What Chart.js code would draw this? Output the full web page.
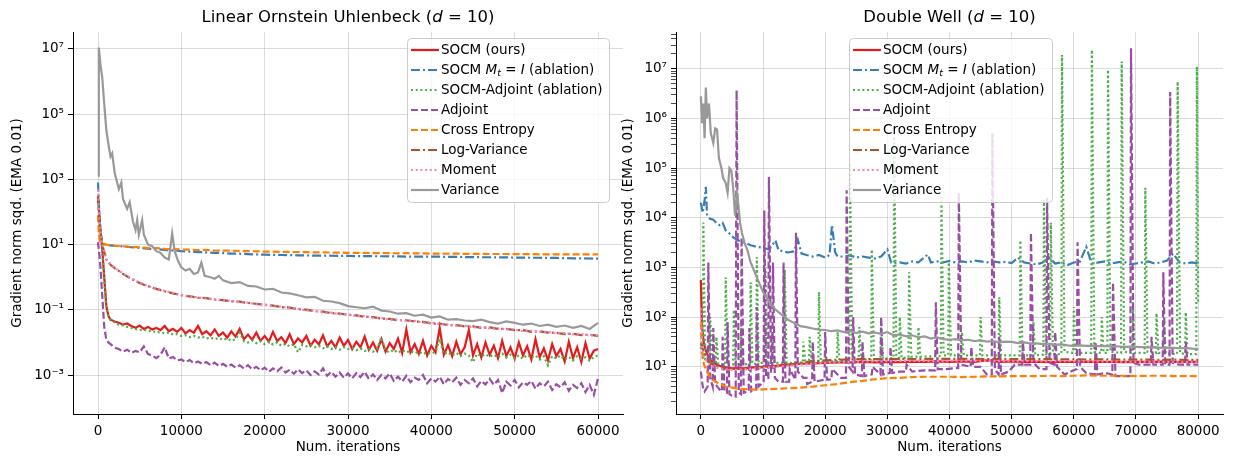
<!DOCTYPE html>
<html>
<head>
<meta charset="utf-8">
<script src="https://cdn.jsdelivr.net/npm/chart.js@4.4.1/dist/chart.umd.min.js"></script>
<style>
  body { margin: 0; background: #fff; }
  #wrap { position: relative; width: 1233px; height: 460px; overflow: hidden; }
  canvas { position: absolute; top: 0; }
  #chart-ou { left: 0; }
  #chart-dw { left: 615px; }
</style>
</head>
<body>
<div id="wrap">
  <canvas id="chart-ou" width="625" height="460"></canvas>
  <canvas id="chart-dw" width="618" height="460"></canvas>
</div>
<script>
const seriesNames = ['SOCM (ours)', 'SOCM Mt = I (ablation)', 'SOCM-Adjoint (ablation)', 'Adjoint',
    'Cross Entropy', 'Log-Variance', 'Moment', 'Variance'];

// ---- Linear Ornstein Uhlenbeck ----
const ouXTicks = [0, 10000, 20000, 30000, 40000, 50000, 60000];
const ouYTicks = [1e-3, 1e-1, 1e1, 1e3, 1e5, 1e7];
const ouYTickLabels = ['10⁻³', '10⁻¹', '10¹', '10³', '10⁵', '10⁷'];

const ouIters = [0, 100, 250, 500, 1000, 1500, 2000, 3000, 4000, 5000,
    6000, 7000, 8000, 9000, 10000,
    11000, 12000, 13000, 14000, 15000, 16000, 17000, 18000, 19000, 20000,
    21000, 22000, 23000, 24000, 25000, 26000, 27000, 28000, 29000, 30000,
    31000, 32000, 33000, 34000, 35000, 36000, 37000, 38000, 39000, 40000,
    41000, 42000, 43000, 44000, 45000, 46000, 47000, 48000, 49000, 50000,
    51000, 52000, 53000, 54000, 55000, 56000, 57000, 58000, 59000, 60000];

const ouCrossEntropy = [80, 20, 13, 11, 10, 9.6, 9.3, 8.9, 8.5, 8.3,
    7.9, 7.8, 7.4, 7.3, 7.1,
    7.0, 6.8, 6.9, 6.6, 6.5, 6.5, 6.3, 6.3, 6.2, 6.1,
    6.1, 6.0, 5.95, 5.9, 5.85, 5.8, 5.8, 5.7, 5.7, 5.6,
    5.6, 5.55, 5.5, 5.5, 5.45, 5.4, 5.45, 5.35, 5.35, 5.3,
    5.3, 5.25, 5.3, 5.2, 5.2, 5.2, 5.15, 5.15, 5.15, 5.1,
    5.1, 5.1, 5.05, 5.05, 5.05, 5.0, 5.0, 5.0, 5.0, 5.0];

const ouMtI = [800, 200, 30, 10.5, 9.8, 9.5, 9.2, 8.8, 8.3, 7.9,
    7.5, 7.2, 6.9, 6.6, 6.3,
    6.1, 5.9, 5.8, 5.6, 5.5, 5.3, 5.25, 5.1, 5.0, 4.9,
    4.85, 4.8, 4.75, 4.7, 4.65, 4.6, 4.6, 4.55, 4.5, 4.5,
    4.45, 4.45, 4.4, 4.4, 4.35, 4.35, 4.3, 4.3, 4.3, 4.25,
    4.25, 4.2, 4.2, 4.15, 4.15, 4.1, 4.1, 4.05, 4.05, 4.0,
    4.0, 3.95, 3.95, 3.9, 3.9, 3.85, 3.8, 3.8, 3.75, 3.7];

const ouLogVariance = [300, 100, 32, 10, 3.5, 2.4, 1.9, 1.26, 0.89, 0.66,
    0.53, 0.44, 0.37, 0.32, 0.28,
    0.26, 0.235, 0.228, 0.205, 0.198, 0.182, 0.178, 0.162, 0.153, 0.142,
    0.135, 0.121, 0.117, 0.105, 0.101, 0.091, 0.088, 0.079, 0.077, 0.07,
    0.068, 0.061, 0.06, 0.054, 0.053, 0.048, 0.048, 0.044, 0.043, 0.038,
    0.038, 0.034, 0.034, 0.031, 0.031, 0.028, 0.029, 0.026, 0.026, 0.024,
    0.024, 0.021, 0.022, 0.02, 0.0198, 0.018, 0.0185, 0.0168, 0.0172, 0.016];

const ouMoment = [500, 120, 35, 11, 3.6, 2.5, 1.95, 1.3, 0.92, 0.68,
    0.54, 0.45, 0.38, 0.33, 0.285,
    0.255, 0.242, 0.222, 0.21, 0.192, 0.186, 0.172, 0.166, 0.149, 0.145,
    0.128, 0.125, 0.111, 0.108, 0.096, 0.094, 0.083, 0.082, 0.073, 0.072,
    0.064, 0.064, 0.057, 0.056, 0.05, 0.05, 0.045, 0.046, 0.04, 0.041,
    0.036, 0.036, 0.032, 0.033, 0.029, 0.03, 0.027, 0.027, 0.025, 0.025,
    0.022, 0.023, 0.021, 0.021, 0.0192, 0.0195, 0.0178, 0.018, 0.0165, 0.0168];

const ouVarIters = [0, 100, 300, 500, 700, 1000, 1300, 1500, 1700, 2000,
    2500, 2800, 3000, 3500, 3800, 4200, 4500, 4700, 4900, 5300,
    5500, 6000, 6500, 7000, 7500, 8000, 8500, 8900, 9200, 9600,
    10000, 10500, 11000, 11500, 12000, 12400, 12800, 13500, 14000, 14500,
    15000, 16000, 17000, 18000, 19000, 20000, 21000, 22000, 23000, 24000,
    25000, 26000, 27000, 28000, 29000, 30000, 31000, 32000, 33000, 34000,
    35000, 36000, 37000, 38000, 39000, 40000, 41000, 42000, 43000, 44000,
    45000, 46000, 47000, 48000, 49000, 50000, 51000, 52000, 53000, 54000,
    55000, 56000, 57000, 58000, 59000, 60000];

const ouVariance = [1300, 1.1e7, 3.2e6, 1.4e6, 3e5, 3.2e4, 1e4, 5000, 6300, 1600,
    500, 800, 250, 125, 200, 50, 28, 56, 20, 56,
    20, 10, 9, 6.3, 5.6, 4, 3.5, 22, 6.3, 3.2,
    2.0, 1.6, 1.8, 1.26, 1.4, 2.8, 1.1, 1.0, 0.9, 1.1,
    0.8, 0.66, 0.71, 0.54, 0.52, 0.42, 0.44, 0.34, 0.32, 0.28,
    0.24, 0.25, 0.19, 0.18, 0.16, 0.13, 0.12, 0.112, 0.126, 0.095,
    0.089, 0.076, 0.079, 0.066, 0.071, 0.058, 0.063, 0.05, 0.052, 0.047,
    0.045, 0.05, 0.042, 0.038, 0.044, 0.04, 0.035, 0.038, 0.032, 0.035,
    0.030, 0.033, 0.028, 0.032, 0.026, 0.04];

const ouNoisyIters = [0, 250, 500, 750, 1000, 1250,
    1500, 2000, 2500, 3000, 3500, 4000, 4500, 5000, 5500, 6000,
    6500, 7000, 7500, 8000, 8500, 9000, 9500, 10000, 10500, 11000,
    11500, 12000, 12500, 13000, 13500, 14000, 14500, 15000, 15500, 16000,
    16500, 17000, 17500, 18000, 18500, 19000, 19500, 20000, 20500, 21000,
    21500, 22000, 22500, 23000, 23500, 24000, 24500, 25000, 25500, 26000,
    26500, 27000, 27500, 28000, 28500, 29000, 29500, 30000, 30500, 31000,
    31500, 32000, 32500, 33000, 33500, 34000, 34500, 35000, 35500, 36000,
    36500, 37000, 37500, 38000, 38500, 39000, 39500, 40000, 40500, 41000,
    41500, 42000, 42500, 43000, 43500, 44000, 44500, 45000, 45500, 46000,
    46500, 47000, 47500, 48000, 48500, 49000, 49500, 50000, 50500, 51000,
    51500, 52000, 52500, 53000, 53500, 54000, 54500, 55000, 55500, 56000,
    56500, 57000, 57500, 58000, 58500, 59000, 59500, 60000];

const ouSocm = [300, 40, 8, 1.0, 0.13, 0.065,
    0.050, 0.044, 0.040, 0.035, 0.038, 0.032, 0.028, 0.033, 0.026, 0.030,
    0.025, 0.028, 0.024, 0.032, 0.022, 0.026, 0.021, 0.028, 0.019, 0.024,
    0.020, 0.032, 0.018, 0.022, 0.0166, 0.025, 0.0158, 0.020, 0.0141, 0.022,
    0.0151, 0.026, 0.0126, 0.0174, 0.012, 0.020, 0.0112, 0.0158, 0.0105, 0.021,
    0.011, 0.0145, 0.0095, 0.0178, 0.0089, 0.0132, 0.010, 0.0158, 0.0079, 0.012,
    0.0087, 0.0166, 0.0076, 0.0112, 0.0071, 0.0141, 0.0079, 0.012, 0.0063, 0.0105,
    0.0071, 0.0151, 0.006, 0.010, 0.0056, 0.0126, 0.0052, 0.0095, 0.0063, 0.0132,
    0.0048, 0.025, 0.005, 0.0089, 0.0045, 0.0112, 0.004, 0.0079, 0.005, 0.028,
    0.0042, 0.0083, 0.0038, 0.0105, 0.0044, 0.0071, 0.024, 0.004, 0.0089, 0.0035,
    0.010, 0.0042, 0.0079, 0.0033, 0.0112, 0.0038, 0.0071, 0.0032, 0.010, 0.004,
    0.0076, 0.003, 0.0126, 0.0035, 0.0066, 0.0028, 0.0089, 0.0038, 0.0063, 0.0026,
    0.0105, 0.0033, 0.0071, 0.0025, 0.0095, 0.0032, 0.0056, 0.0063];

const ouSocmAdjoint = [200, 35, 7, 0.8, 0.11, 0.06,
    0.048, 0.042, 0.035, 0.033, 0.030, 0.028, 0.026, 0.024, 0.025, 0.022,
    0.023, 0.020, 0.021, 0.019, 0.020, 0.0174, 0.018, 0.0158, 0.0166, 0.0145,
    0.0158, 0.0141, 0.0151, 0.0132, 0.0141, 0.0126, 0.0138, 0.012, 0.0132, 0.0112,
    0.0126, 0.020, 0.011, 0.010, 0.0115, 0.0095, 0.011, 0.0089, 0.0105, 0.0087,
    0.010, 0.0079, 0.0091, 0.0076, 0.0089, 0.005, 0.0083, 0.0076, 0.0083, 0.0071,
    0.0079, 0.0066, 0.0076, 0.0063, 0.0072, 0.006, 0.0071, 0.0063, 0.0069, 0.0058,
    0.0066, 0.0055, 0.0063, 0.0052, 0.0063, 0.0141, 0.0056, 0.005, 0.006, 0.0048,
    0.0058, 0.005, 0.0055, 0.0046, 0.0052, 0.0044, 0.005, 0.0045, 0.0052, 0.0126,
    0.0044, 0.005, 0.004, 0.0048, 0.0038, 0.0046, 0.004, 0.0025, 0.0045, 0.0038,
    0.0044, 0.0036, 0.0042, 0.0035, 0.0045, 0.0035, 0.0042, 0.0033, 0.004, 0.0032,
    0.0042, 0.0034, 0.004, 0.003, 0.0038, 0.002, 0.0038, 0.0032, 0.004, 0.003,
    0.0036, 0.0028, 0.0038, 0.0032, 0.0035, 0.0028, 0.0036, 0.004];

const ouAdjoint = [12, 3, 0.3, 0.03, 0.012, 0.01,
    0.0089, 0.0069, 0.0063, 0.0052, 0.006, 0.0048, 0.0055, 0.005, 0.0076, 0.0044,
    0.004, 0.0033, 0.0042, 0.0071, 0.0032, 0.0036, 0.0028, 0.003, 0.0025, 0.0029,
    0.0023, 0.0026, 0.0022, 0.0025, 0.002, 0.0024, 0.0019, 0.0022, 0.0018, 0.0021,
    0.0017, 0.002, 0.0016, 0.002, 0.0015, 0.0018, 0.0014, 0.0017, 0.00126, 0.0016,
    0.0013, 0.0017, 0.0012, 0.00145, 0.0011, 0.0015, 0.00115, 0.0014, 0.001, 0.0013,
    0.00105, 0.0016, 0.00095, 0.00126, 0.00089, 0.0012, 0.00083, 0.00112, 0.00079, 0.00115,
    0.00087, 0.00126, 0.00076, 0.00105, 0.00071, 0.001, 0.00079, 0.00112, 0.00066, 0.00089,
    0.00063, 0.00095, 0.0006, 0.00083, 0.00071, 0.001, 0.00056, 0.00079, 0.00063, 0.00089,
    0.00052, 0.00076, 0.0006, 0.00083, 0.0005, 0.00071, 0.00056, 0.00079, 0.00045, 0.00066,
    0.00052, 0.00076, 0.0005, 0.00071, 0.00028, 0.00063, 0.00048, 0.00071, 0.00042, 0.0006,
    0.0005, 0.00066, 0.00038, 0.00056, 0.00045, 0.00063, 0.00035, 0.00052, 0.00042, 0.0006,
    0.00033, 0.0005, 0.0004, 0.00056, 0.0003, 0.0005, 0.00025, 0.00079];

// ---- Double Well ----
const dwXTicks = [0, 10000, 20000, 30000, 40000, 50000, 60000, 70000, 80000];
const dwYTicks = [1e1, 1e2, 1e3, 1e4, 1e5, 1e6, 1e7];
const dwYTickLabels = ['10¹', '10²', '10³', '10⁴', '10⁵', '10⁶', '10⁷'];
const dwMinorDecades = [1, 1e1, 1e2, 1e3, 1e4, 1e5, 1e6, 1e7];
const minorSteps = [2, 3, 4, 5, 6, 7, 8, 9];

const dwIters = [0, 200, 500, 1000, 1500, 2000, 3000, 4000, 5000, 6000,
    7000, 8000, 9000, 10000, 12000, 14000, 16000, 18000, 20000, 22000,
    24000, 26000, 28000, 30000, 32000, 34000, 36000, 38000, 40000, 42000,
    44000, 46000, 48000, 50000, 52000, 54000, 56000, 58000, 60000, 62000,
    64000, 66000, 68000, 70000, 72000, 74000, 76000, 78000, 80000];

const dwSocm = [560, 63, 28, 18, 14, 12, 10.5, 9.8, 9.3, 9.4,
    9.3, 9.6, 9.8, 10, 10.5, 11, 11.5, 11.7, 12, 12.3,
    12.2, 12.5, 12.3, 12.6, 12.4, 12.7, 12.5, 12.8, 12.6, 12.8,
    12.5, 13.5, 12.6, 12.8, 12.5, 12.7, 12.4, 12.6, 12.5, 12.7,
    12.5, 12.6, 12.4, 12.6, 12.5, 12.7, 12.5, 12.6, 12.6];

const dwCrossEntropy = [80, 20, 11, 7.9, 6.3, 5.4, 4.5, 4.0, 3.8, 3.6,
    3.55, 3.5, 3.45, 3.5, 3.6, 3.7, 3.8, 4.0, 4.25, 4.5,
    4.9, 5.2, 5.6, 5.9, 6.0, 6.2, 6.3, 6.3, 6.3, 6.2,
    6.3, 6.4, 6.4, 6.5, 6.5, 6.5, 6.6, 6.5, 6.6, 6.7,
    6.6, 6.6, 6.6, 6.5, 6.6, 6.6, 6.5, 6.5, 6.5];

const dwLogVariance = [30, 25, 18, 14, 12, 11, 10, 9.3, 9.1, 9.1,
    9.1, 9.3, 9.5, 9.8, 10.2, 11, 12, 12.9, 13.5, 13.8,
    14.1, 14.2, 14.3, 14.3, 14.4, 14.3, 14.4, 14.5, 14.4, 14.5,
    14.4, 14.3, 14.4, 14.3, 14.2, 14.3, 14.2, 14.1, 14.2, 14.0,
    14.1, 14.0, 13.9, 14.0, 13.9, 13.8, 13.9, 13.8, 13.8];

const dwMoment = [150, 25, 16, 12.6, 11, 10, 9.3, 8.9, 8.7, 8.7,
    8.9, 9.1, 9.3, 9.5, 10, 10.5, 11, 11.5, 12, 12.3,
    12.6, 12.8, 12.9, 13, 13.1, 13.1, 13.2, 13.2, 13.2, 13.3,
    13.2, 13.2, 13.1, 13.2, 13.1, 13.0, 13.1, 13.0, 12.9, 12.9,
    12.8, 12.8, 12.7, 12.6, 12.6, 12.5, 12.5, 12.4, 12.4];

const dwMtIIters = [0, 300, 600, 800, 1000, 1500, 2000, 2500, 3000, 3500,
    4000, 4500, 5000, 6000, 7000, 8000, 9000, 10000, 11000, 12000,
    12500, 13000, 14000, 15000, 15600, 16200, 17000, 18000, 19000, 20000,
    20700, 21100, 21600, 22000, 23000, 24000, 25000, 26000, 27000, 28000,
    29000, 30000, 30600, 31000, 32000, 33000, 34000, 35000, 36500, 37000,
    38000, 39000, 40000, 41000, 42000, 43000, 44000, 45000, 46000, 47000,
    48000, 49000, 50000, 51000, 52000, 53000, 54000, 55000, 56000, 57000,
    58000, 59000, 60000, 61000, 62000, 62800, 63000, 64000, 65000, 66000,
    67000, 68000, 69000, 70000, 71000, 72000, 73000, 74000, 75000, 76000,
    77000, 78000, 79000, 80000];

const dwMtI = [2e4, 1.26e4, 2.2e4, 4.2e4, 1.1e4, 9500, 9100, 7900, 7100, 7900,
    5600, 5000, 4200, 3500, 3200, 2800, 2600, 2500, 2300, 3500,
    2200, 2150, 2000, 2100, 3600, 1900, 1780, 1660, 1780, 1580,
    1780, 7200, 2000, 1660, 1660, 1740, 1580, 1660, 1580, 1510,
    1660, 2300, 1260, 1230, 1260, 1200, 1320, 1260, 1820, 1260,
    1320, 1260, 1350, 1260, 1320, 1260, 1380, 1320, 1260, 1320,
    1260, 1290, 1230, 1580, 1260, 1200, 1150, 1260, 1580, 1200,
    1260, 1120, 1260, 1320, 2600, 1260, 1200, 1260, 1320, 1200,
    1260, 1320, 1150, 1200, 1260, 1320, 1200, 1260, 1380, 1900,
    1260, 1200, 1260, 1200];

const dwVarIters = [0, 200, 400, 600, 800, 1000, 1300, 1600, 2000, 2300,
    2600, 2900, 3300, 3600, 4000, 4300, 4600, 4900, 5200, 5500,
    5800, 6000, 6300, 6600, 7000, 7500, 8000, 8500, 9000, 9500,
    10000, 11000, 12000, 13000, 14000, 15000, 16000, 17000, 18000, 19000,
    20000, 21000, 22000, 23000, 24000, 25000, 26000, 27000, 28000, 29000,
    30000, 31000, 32000, 33000, 34000, 35000, 36000, 37000, 38000, 39000,
    40000, 41000, 42000, 43000, 44000, 45000, 46000, 47000, 48000, 49000,
    50000, 51000, 52000, 53000, 54000, 55000, 56000, 57000, 58000, 59000,
    60000, 61000, 62000, 63000, 64000, 65000, 66000, 67000, 68000, 69000,
    70000, 71000, 72000, 73000, 74000, 75000, 76000, 77000, 78000, 79000,
    80000];

const dwVariance = [2.8e6, 8e5, 2e6, 4e5, 4.2e6, 1e6, 2e6, 5e5, 3.2e5, 6.3e5,
    6e5, 1.6e5, 1e5, 6.3e4, 5e4, 3.2e4, 1e5, 9e4, 4e4, 1.1e4,
    3.2e4, 2e4, 8e3, 5e3, 3.2e3, 2.2e3, 1260, 900, 630, 450,
    320, 200, 141, 112, 89, 76, 66, 63, 59, 56,
    55, 52, 54, 50, 52, 48, 51, 47, 49, 46,
    50, 43, 45, 41, 43, 39, 41, 37, 39, 36,
    35, 36, 34, 35, 33, 34, 32, 33, 31, 32,
    31.6, 30, 31, 29.5, 29.5, 28.5, 28.8, 28, 28.2, 27,
    26.3, 27, 26.3, 26.6, 26, 26.2, 25.5, 25.9, 25.1, 25.4,
    25.1, 24.8, 24.5, 24.8, 24, 24.3, 24, 23.6, 23.8, 23.2,
    22.9];

const dwAdjointIters = [0, 300, 600, 1100, 1200, 1500, 1900, 2000, 2300, 3000,
    3400, 3500, 3800, 4200, 4300, 4600, 5000, 5600, 5750, 6100,
    6450, 6550, 6900, 7700, 7800, 8100, 8900, 9000, 9300, 10100,
    10200, 10500, 10850, 10950, 11300, 11500, 11600, 11900, 12500, 13200,
    13300, 13600, 14200, 14300, 15200, 15300, 15600, 16500, 17000, 17100,
    17900, 18000, 18300, 19900, 20000, 20300, 21000, 21100, 22500, 23350,
    23450, 23800, 24400, 24500, 24800, 25900, 26000, 26300, 27500, 27600,
    28900, 29000, 29300, 30400, 30500, 30800, 32000, 33000, 33100, 34000,
    36000, 37700, 37800, 38100, 39500, 41400, 41500, 41900, 43400, 43500,
    43800, 45000, 46000, 46800, 46900, 47300, 47900, 48000, 48300, 49500,
    50500, 51700, 51800, 52100, 53000, 53100, 53500, 54500, 55600, 55700,
    56100, 56900, 57000, 57300, 58500, 59500, 60500, 60600, 61000, 62000,
    63400, 63500, 63800, 65000, 66200, 66300, 66700, 68000, 69100, 69200,
    69600, 70500, 72400, 72500, 72800, 74300, 74400, 74700, 75400, 75500,
    75900, 77000, 77900, 78000, 78300, 80000];

const dwAdjoint = [8, 4, 3.2, 4, 1260, 6, 4, 60, 4.5, 3.5,
    3.2, 40, 3.2, 3.0, 80, 2.8, 2.6, 2.5, 3.7e6, 3.0,
    2.8, 4000, 3.0, 3.2, 60, 3.2, 3.5, 160, 4, 5,
    1.4e4, 6, 6, 6.6e4, 8, 8, 1260, 6, 5, 5,
    1260, 5, 5, 9, 5.5, 5000, 8, 6, 6, 4.5,
    5, 32, 5, 5.5, 50, 5.5, 5.5, 9, 6, 6,
    3.6e4, 10, 8, 100, 7, 6.5, 32, 6.5, 7, 10,
    7, 100, 7, 7.5, 25, 7.5, 8, 8, 11, 8,
    8.5, 8.5, 200, 9, 9, 9.5, 3.2e4, 11, 10, 25,
    10, 10, 7, 7, 5e5, 9, 7, 40, 7, 8,
    11, 11, 32, 11, 11, 5000, 12, 9, 9, 2.5e4,
    12, 11, 50, 10, 7, 8, 9, 3200, 10, 7.5,
    7, 32, 7, 7.5, 7, 500, 6.5, 6.5, 6.5, 2.6e7,
    12, 11, 11, 40, 11, 11, 800, 11, 11, 3.4e6,
    12, 11, 11, 32, 11, 11];

const dwSocmAdjointIters = [0, 300, 350, 400, 700, 1400, 1500, 1800, 2400, 2500,
    2800, 3900, 4000, 4300, 5200, 5300, 5600, 6400, 6500, 6800,
    7900, 8000, 8300, 8900, 9000, 9300, 10300, 10400, 10700, 11400,
    11500, 11800, 13400, 13500, 13800, 16400, 16500, 16800, 17400, 17500,
    17800, 18900, 19000, 19300, 21900, 22000, 22300, 23900, 24000, 24350,
    25400, 25500, 25800, 27400, 27500, 27850, 28900, 29000, 29300, 31000,
    31100, 31450, 31900, 32000, 32300, 33400, 33500, 33850, 34900, 35000,
    35300, 38600, 38700, 39050, 39800, 39900, 40250, 41900, 42000, 42300,
    44900, 45000, 45300, 47900, 48000, 48300, 51300, 51400, 51750, 53400,
    53500, 53800, 55100, 55200, 55550, 56200, 56300, 56650, 58000, 58100,
    58500, 59900, 60000, 60300, 62800, 62900, 63300, 64400, 64500, 64800,
    65400, 65500, 65900, 67600, 67700, 68100, 69400, 69500, 69800, 71400,
    71500, 71850, 73200, 73300, 73600, 74400, 74500, 74800, 76600, 76700,
    77100, 77900, 78000, 78300, 79700, 79800, 80000];

const dwSocmAdjoint = [25, 15, 15, 8000, 14, 12, 100, 12, 11.5, 40,
    11.5, 11, 630, 11, 11, 140, 11, 11, 63, 11,
    11.5, 500, 11.5, 11.5, 1600, 12, 12, 1000, 12, 12,
    50, 12, 12, 900, 12, 12, 32, 12, 12, 40,
    12, 12.5, 320, 12.5, 13, 50, 13, 13.5, 1.26e5, 16,
    14, 63, 14, 14, 2300, 14, 14, 80, 14.5, 15,
    4.3e5, 17, 15, 100, 15, 15.5, 800, 16, 16, 63,
    16, 16.5, 2.6e4, 17, 17, 1260, 17, 17, 50, 17,
    17, 100, 17, 17, 250, 17, 17, 3500, 17, 17,
    80, 17, 17.5, 2.3e4, 18, 18, 8000, 18, 18, 1.9e7,
    20, 19, 160, 19, 19, 2.4e7, 20, 19, 100, 19,
    19, 9.5e6, 20, 19, 1.4e7, 20, 19, 200, 19, 19,
    4e4, 20, 19, 120, 19, 18.5, 80, 18.5, 18, 5.5e6,
    19, 18, 125, 18, 18, 1.1e7, 200];

const seriesStyles = [
    { color: '#e41a1c', dash: [] },
    { color: '#377eb8', dash: [9, 3, 2, 3] },
    { color: '#4daf4a', dash: [2, 2.7] },
    { color: '#984ea3', dash: [7, 3] },
    { color: '#ff7f00', dash: [7, 3] },
    { color: '#a65628', dash: [9, 3, 2, 3] },
    { color: '#f781bf', dash: [2, 2.7] },
    { color: '#999999', dash: [] }
];

const gridColor = 'rgba(176, 176, 176, 0.45)';
const textSize = 13.5;

Chart.defaults.font.family = "'DejaVu Sans', sans-serif";
Chart.defaults.font.size = textSize;
Chart.defaults.color = '#000';

document.addEventListener('DOMContentLoaded', () => {
    initOrnsteinUhlenbeck();
    initDoubleWell();
});

function legendLabel(i) {
    if (i === 1) {
        return [{ t: 'SOCM ' }, { t: 'M', it: true }, { t: 't', it: true, sub: true },
            { t: ' = ' }, { t: 'I', it: true }, { t: ' (ablation)' }];
    }
    return [{ t: seriesNames[i] }];
}

function drawRich(ctx, parts, x, y, size, center) {
    ctx.save();
    ctx.fillStyle = '#000';
    ctx.textBaseline = 'middle';
    ctx.textAlign = 'left';
    const fontOf = p => (p.it ? 'italic ' : '') + (p.sub ? size * 0.7 : size) + "px 'DejaVu Sans'";
    let total = 0;
    parts.forEach(p => { ctx.font = fontOf(p); total += ctx.measureText(p.t).width; });
    let cx = center ? x - total / 2 : x;
    parts.forEach(p => {
        ctx.font = fontOf(p);
        ctx.fillText(p.t, cx, y + (p.sub ? size * 0.28 : 0));
        cx += ctx.measureText(p.t).width;
    });
    ctx.restore();
}

function titlePlugin(parts) {
    return {
        id: 'panelTitle',
        afterDraw(chart) {
            const a = chart.chartArea;
            drawRich(chart.ctx, parts, (a.left + a.right) / 2, 18, 16.5, true);
        }
    };
}

function legendPlugin(box) {
    return {
        id: 'boxLegend',
        afterDatasetsDraw(chart) {
            const ctx = chart.ctx;
            ctx.save();
            ctx.beginPath();
            ctx.roundRect(box.x + 0.5, box.y + 0.5, box.w, box.h, 4);
            ctx.fillStyle = 'rgba(255, 255, 255, 0.8)';
            ctx.fill();
            ctx.strokeStyle = '#cccccc';
            ctx.lineWidth = 1;
            ctx.stroke();
            chart.data.datasets.forEach((ds, i) => {
                const y = box.y + 12 + i * 20;
                ctx.beginPath();
                ctx.setLineDash(ds.borderDash);
                ctx.strokeStyle = ds.borderColor;
                ctx.lineWidth = ds.borderWidth;
                ctx.moveTo(box.x + 4, y);
                ctx.lineTo(box.x + 32, y);
                ctx.stroke();
                ctx.setLineDash([]);
                drawRich(ctx, legendLabel(i), box.x + 34, y, textSize, false);
            });
            ctx.restore();
        }
    };
}

function series(idx, iters, vals) {
    const st = seriesStyles[idx];
    return {
        label: seriesNames[idx],
        data: iters.map((x, i) => ({ x: x, y: vals[i] })),
        borderColor: st.color,
        borderDash: st.dash,
        borderWidth: 2.2,
        pointRadius: 0,
        fill: false,
        tension: 0,
        order: 8 - idx
    };
}

function iterAxis(min, max, ticks) {
    return {
        type: 'linear',
        min: min,
        max: max,
        afterBuildTicks: scale => { scale.ticks = ticks.map(v => ({ value: v })); },
        afterFit: scale => { scale.height = 46; },
        ticks: { autoSkip: false, maxRotation: 0, padding: 4, color: '#000', callback: v => String(v) },
        grid: { color: gridColor, tickColor: '#000', tickLength: 5 },
        border: { color: '#000', width: 1 },
        title: { display: true, text: 'Num. iterations', color: '#000', padding: { top: 0, bottom: 4 } }
    };
}

function normAxis(min, max, ticks, labels, minor, width, titlePad) {
    return {
        type: 'logarithmic',
        min: min,
        max: max,
        afterBuildTicks: scale => {
            const all = ticks.map(v => ({ value: v, major: true }));
            minor.forEach(v => { if (v > min && v < max) all.push({ value: v, major: false }); });
            all.sort((a, b) => a.value - b.value);
            scale.ticks = all;
        },
        afterFit: scale => { scale.width = width; },
        ticks: {
            autoSkip: false,
            padding: 4,
            color: '#000',
            callback: value => {
                const i = ticks.indexOf(value);
                return i >= 0 ? labels[i] : '';
            }
        },
        grid: {
            color: ctx => (ctx.tick && ctx.tick.major) ? gridColor : 'rgba(0,0,0,0)',
            tickColor: '#000',
            tickLength: 5,
            tickWidth: ctx => (ctx.tick && ctx.tick.major) ? 1 : 0.7
        },
        border: { color: '#000', width: 1 },
        title: { display: true, text: 'Gradient norm sqd. (EMA 0.01)', color: '#000', padding: { top: titlePad, bottom: 0 } }
    };
}

function chartOptions(xAxis, yAxis, padRight) {
    return {
        responsive: false,
        animation: false,
        events: [],
        layout: { padding: { top: 32, right: padRight, bottom: 0, left: 0 } },
        plugins: { legend: { display: false }, tooltip: { enabled: false } },
        scales: { x: xAxis, y: yAxis }
    };
}

function initOrnsteinUhlenbeck() {
    const datasets = [
        series(0, ouNoisyIters, ouSocm),
        series(1, ouIters, ouMtI),
        series(2, ouNoisyIters, ouSocmAdjoint),
        series(3, ouNoisyIters, ouAdjoint),
        series(4, ouIters, ouCrossEntropy),
        series(5, ouIters, ouLogVariance),
        series(6, ouIters, ouMoment),
        series(7, ouVarIters, ouVariance)
    ];

    window.chartOU = new Chart(document.getElementById('chart-ou'), {
        type: 'line',
        data: { datasets },
        options: chartOptions(
            iterAxis(-3000, 63000, ouXTicks),
            normAxis(6.4e-5, 3.3e7, ouYTicks, ouYTickLabels, [], 73, 9),
            2
        ),
        plugins: [
            legendPlugin({ x: 407, y: 38, w: 202, h: 164 }),
            titlePlugin([{ t: 'Linear Ornstein Uhlenbeck (' }, { t: 'd', it: true }, { t: ' = 10)' }])
        ]
    });
}

function initDoubleWell() {
    const minor = [];
    dwMinorDecades.forEach(d => minorSteps.forEach(m => minor.push(m * d)));

    const datasets = [
        series(0, dwIters, dwSocm),
        series(1, dwMtIIters, dwMtI),
        series(2, dwSocmAdjointIters, dwSocmAdjoint),
        series(3, dwAdjointIters, dwAdjoint),
        series(4, dwIters, dwCrossEntropy),
        series(5, dwIters, dwLogVariance),
        series(6, dwIters, dwMoment),
        series(7, dwVarIters, dwVariance)
    ];

    window.chartDW = new Chart(document.getElementById('chart-dw'), {
        type: 'line',
        data: { datasets },
        options: chartOptions(
            iterAxis(-4000, 84000, dwXTicks),
            normAxis(1.12, 5.5e7, dwYTicks, dwYTickLabels, minor, 61, 5),
            10
        ),
        plugins: [
            legendPlugin({ x: 234, y: 38, w: 203, h: 164 }),
            titlePlugin([{ t: 'Double Well (' }, { t: 'd', it: true }, { t: ' = 10)' }])
        ]
    });
}
</script>
</body>
</html>
